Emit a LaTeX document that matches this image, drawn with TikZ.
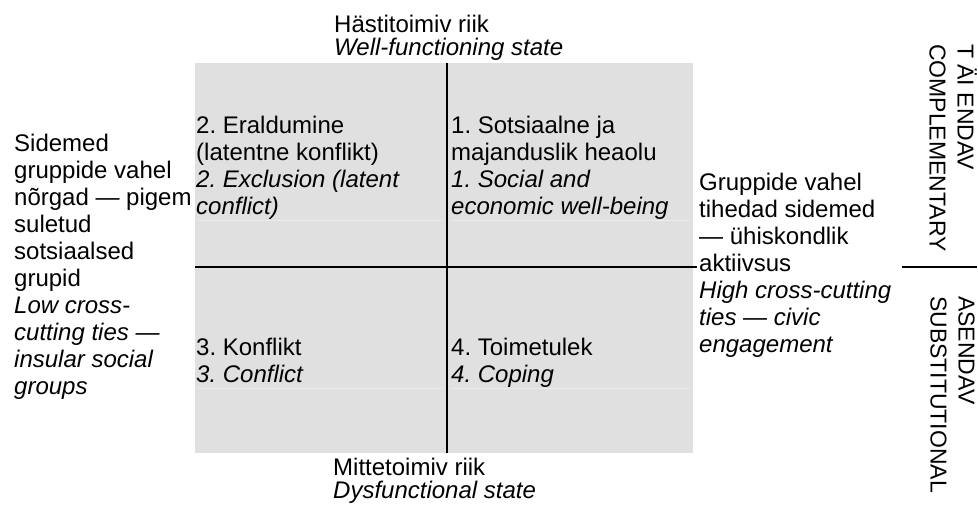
\documentclass[tikz,border=0pt]{standalone}
\usepackage{fontspec}
\setmainfont{Liberation Sans}
\usetikzlibrary{positioning}

\definecolor{cellgray}{HTML}{E0E0E0}
\definecolor{cellrule}{HTML}{EBEBEB}

\begin{document}
\frenchspacing
\begin{tikzpicture}[
    x=1pt, y=-1pt,
    txt/.style={anchor=base west, align=left, inner sep=0pt, font=\fontsize{24}{27}\selectfont},
    axislbl/.style={anchor=base west, align=left, inner sep=0pt, font=\fontsize{24}{23.5}\selectfont},
    sidelbl/.style={anchor=north west, rotate=-90, align=left, inner sep=0pt, font=\fontsize{23}{28}\selectfont},
    divider/.style={line width=2pt},
    faint/.style={draw=cellrule, line width=0.8pt}
]
\useasboundingbox (0,0) rectangle (978,507);

% Cells
\fill[cellgray] (195,63) rectangle (693,453);
\draw[faint] (197,220) -- (443,220) (452,220) -- (690,220);
\draw[faint] (197,388) -- (443,388) (452,388) -- (690,388);

% Axes
\coordinate (vtop) at (447,63);
\coordinate (vbot) at (447,453);
\coordinate (hleft) at (195,267);
\coordinate (hright) at (697,267);
\draw[divider] (vtop) -- (vbot);
\draw[divider] (hleft) -- (hright);

% Axis labels (base = last line)
\node[axislbl] (wellstate) at (334,55.5) {Hästitoimiv riik\\\textit{Well-functioning state}};
\node[axislbl] (dysstate) at (333,498.5) {Mittetoimiv riik\\\textit{Dysfunctional state}};
\node[txt] (lowties) at (14,394) {Sidemed\\gruppide vahel\\nõrgad — pigem\\suletud\\sotsiaalsed\\grupid\\\textit{Low cross-}\\\textit{cutting ties —}\\\textit{insular social}\\\textit{groups}};
\node[txt] (highties) at (699,352) {Gruppide vahel\\tihedad sidemed\\— ühiskondlik\\aktiivsus\\\textit{High cross-cutting}\\\textit{ties — civic}\\\textit{engagement}};

% Quadrants
\node[txt] (q2) at (196,214) {2. Eraldumine\\(latentne konflikt)\\\textit{2. Exclusion (latent}\\\textit{conflict)}};
\node[txt] (q1) at (451,214) {1. Sotsiaalne ja\\majanduslik heaolu\\\textit{1. Social and}\\\textit{economic well-being}};
\node[txt] (q3) at (196,382) {3. Konflikt\\\textit{3. Conflict}};
\node[txt] (q4) at (451,382) {4. Toimetulek\\\textit{4. Coping}};

% Side labels
\node[sidelbl] (compl) at (977,44) {T ÄI ENDAV\\COMPLEMENTARY};
\node[sidelbl] (subst) at (975,296) {ASENDAV\\SUBSTITUTIONAL};
\coordinate (sleft) at (902,267);
\coordinate (sright) at (977,267);
\draw[divider] (sleft) -- (sright);

\end{tikzpicture}
\end{document}
